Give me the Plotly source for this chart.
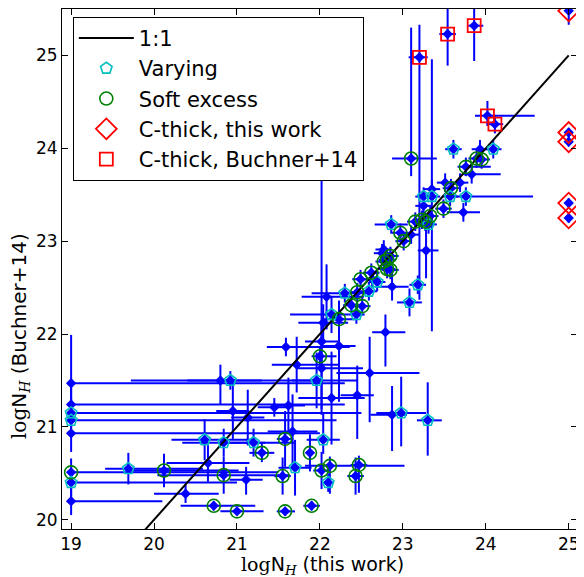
import plotly.graph_objects as go

# logNH (this work), logNH (Buchner+14), errors (minus/plus), flag
x_this = [19.0, 19.0, 19.0, 19.0, 19.0, 19.0, 19.0, 19.0,
          19.69, 20.12, 20.38, 20.72, 21.00, 21.58, 20.61, 20.84, 21.20, 21.30, 20.84, 21.11,
          20.65, 20.80, 20.92, 20.95, 21.13, 21.58, 21.55, 21.59, 21.45, 21.62, 21.70, 21.72,
          21.96, 22.02, 22.14, 22.45, 22.04, 21.88, 22.02, 22.12, 22.43, 22.47, 22.10, 21.90,
          21.67, 22.00, 22.23, 22.02, 22.60, 22.79, 22.87, 22.98, 23.30, 23.08, 22.23, 22.14,
          22.38, 22.51, 22.44, 22.08, 22.04, 22.30, 22.45, 22.59, 22.49, 22.62, 22.63, 22.69,
          22.81, 22.81, 22.75, 22.87, 23.18, 22.77, 22.85, 22.85, 22.77, 23.28, 22.97, 23.01,
          22.86, 23.15, 23.23, 23.27, 23.33, 23.31, 23.49, 23.73, 23.25, 23.35, 23.57, 23.76,
          23.58, 23.51, 23.69, 23.76, 23.10, 23.20, 23.54, 23.86, 24.02, 24.11, 23.61, 24.09,
          23.89, 23.95, 23.93, 23.83, 23.35, 23.25, 23.10,
          25.0, 25.0, 25.0, 25.0, 25.0]
y_b14 = [21.47, 21.24, 21.15, 21.07, 20.93, 20.51, 20.40, 20.20,
         20.55, 20.53, 20.28, 20.15, 20.09, 20.09, 20.86, 20.83, 20.83, 20.72, 20.48, 20.43,
         20.61, 21.50, 21.50, 21.17, 21.10, 20.87, 20.47, 21.86, 21.21, 21.23, 20.56, 21.67,
         21.50, 21.63, 21.31, 21.34, 20.86, 20.72, 20.53, 20.58, 20.47, 20.59, 20.40, 20.15,
         20.95, 21.76, 21.87, 21.92, 21.58, 22.02, 21.13, 21.15, 21.07, 22.34, 22.16, 22.21,
         22.31, 22.30, 22.21, 22.40, 22.12, 22.44, 22.45, 22.46, 22.59, 22.66, 22.59, 22.56,
         22.80, 22.70, 22.87, 22.51, 22.53, 22.78, 22.69, 22.84, 22.91, 22.90, 23.09, 23.00,
         23.18, 23.21, 23.23, 23.21, 23.27, 23.18, 23.35, 23.31, 23.48, 23.48, 23.48, 23.48,
         23.57, 23.63, 23.63, 23.80, 23.89, 24.98, 25.23, 25.32, 24.35, 24.26, 23.99, 23.99,
         23.89, 23.88, 23.99, 23.72, 23.56, 23.38, 23.07,
         25.48, 24.17, 24.07, 23.41, 23.25]
x_err_minus = [0, 0, 0, 0, 0, 0, 0, 0,
               0.28, 0.40, 0.38, 0.40, 0.20, 0.10, 0.40, 0.50, 0.30, 0.15, 0.80, 0.20,
               0.50, 0.40, 1.20, 0.20, 0.20, 0.10, 0.10, 0.23, 0.20, 0.20, 0.20, 0.30,
               0.30, 0.30, 0.40, 0.20, 0.20, 0.05, 0.10, 0.30, 0.10, 0.10, 0.05, 0.10,
               0.30, 0.10, 0.20, 0.20, 0.40, 0.16, 0.26, 0.30, 0.13, 0.15, 0.20, 0.50,
               0.10, 0.10, 0.10, 0.30, 0.30, 0.40, 0.10, 0.10, 0.10, 0.10, 0.10, 0.10,
               0.10, 0.10, 0.10, 0.20, 0.10, 0.10, 0.10, 0.10, 0.10, 0.10, 0.10, 0.10,
               0.20, 0.10, 0.10, 0.10, 0.10, 0.10, 0.10, 0.20, 0.10, 0.10, 0.10, 0.20,
               0.10, 0.10, 0.10, 0.10, 0.23, 0.13, 0.10, 0.07, 0.15, 0.10, 0.10, 0.10,
               0.10, 0.10, 0.10, 0.10, 0.10, 0.10, 0.10,
               0, 0, 0, 0, 0]
x_err_plus = [3.30, 3.30, 3.50, 3.20, 3.00, 2.50, 2.00, 1.10,
              0.90, 0.90, 0.40, 0.50, 0.32, 0.12, 0.60, 0.50, 0.50, 0.15, 0.80, 0.20,
              0.50, 0.50, 1.00, 0.20, 0.20, 0.10, 0.10, 0.77, 0.20, 0.20, 0.20, 0.50,
              0.50, 0.50, 0.40, 0.20, 0.20, 0.05, 0.10, 0.90, 0.10, 0.10, 0.05, 0.10,
              0.30, 0.20, 0.20, 0.20, 0.60, 0.24, 0.18, 0.30, 0.17, 0.15, 0.20, 0.20,
              0.10, 0.10, 0.10, 0.45, 0.30, 0.30, 0.10, 0.10, 0.10, 0.10, 0.10, 0.10,
              0.10, 0.10, 0.10, 0.20, 0.10, 0.10, 0.10, 0.10, 0.10, 0.15, 0.10, 0.10,
              0.20, 0.10, 0.10, 0.10, 0.10, 0.10, 0.10, 0.20, 0.10, 0.10, 0.10, 0.81,
              0.10, 0.10, 0.10, 0.30, 0.31, 0.10, 0.10, 0.11, 0.57, 0.10, 0.10, 0.10,
              0.10, 0.10, 0.10, 0.35, 0.10, 0.10, 0.10,
              0, 0, 0, 0, 0]
y_err_minus = [0.30, 0.20, 0.15, 0.15, 0.20, 0.15, 0.15, 0.15,
               0.17, 0.18, 0.10, 0.05, 0.03, 0.05, 0.22, 0.15, 0.15, 0.10, 0.20, 0.16,
               0.20, 0.26, 0.10, 0.30, 0.30, 0.30, 0.20, 0.10, 0.10, 0.30, 0.30, 0.30,
               0.30, 0.50, 0.50, 0.47, 0.15, 0.20, 0.20, 0.30, 0.20, 0.30, 0.10, 0.05,
               0.40, 0.10, 0.60, 0.73, 0.53, 0.37, 0.39, 0.36, 0.38, 0.15, 0.20, 0.20,
               0.10, 0.10, 0.10, 0.35, 0.20, 0.10, 0.10, 0.10, 0.10, 0.10, 0.10, 0.10,
               0.10, 0.10, 0.10, 0.15, 0.10, 0.10, 0.10, 0.10, 0.10, 0.30, 0.10, 0.10,
               0.10, 0.10, 0.10, 0.10, 0.10, 0.10, 0.10, 0.10, 0.10, 1.45, 0.10, 0.10,
               0.10, 0.10, 0.10, 0.10, 0.19, 2.61, 0.34, 0.38, 0.11, 0.10, 0.10, 0.10,
               0.10, 0.10, 0.10, 0.10, 0.10, 0.10, 0.10,
               0.15, 0.05, 0.05, 0.05, 0.05]
y_err_plus = [0.52, 0.20, 0.15, 0.15, 0.20, 0.15, 0.15, 0.15,
              0.17, 0.18, 0.10, 0.05, 0.03, 0.05, 0.22, 0.15, 0.15, 0.10, 0.20, 0.14,
              0.20, 0.17, 0.10, 0.30, 0.30, 0.30, 0.20, 0.10, 0.10, 0.30, 0.30, 0.30,
              0.30, 0.50, 0.50, 0.32, 0.30, 0.20, 0.20, 0.10, 0.20, 0.10, 0.10, 0.05,
              0.40, 0.10, 0.20, 1.74, 0.39, 0.19, 0.31, 0.39, 0.41, 0.15, 0.20, 0.20,
              0.10, 0.10, 0.10, 0.35, 0.20, 0.10, 0.10, 0.10, 0.10, 0.10, 0.10, 0.10,
              0.10, 0.10, 0.10, 0.15, 0.10, 0.10, 0.10, 0.10, 0.10, 0.30, 0.10, 0.10,
              0.10, 0.10, 0.10, 0.10, 0.10, 0.10, 0.10, 0.10, 0.10, 1.48, 0.10, 0.10,
              0.10, 0.10, 0.10, 0.10, 1.41, 0.35, 0.30, 0.30, 0.16, 0.10, 0.10, 0.10,
              0.10, 0.10, 0.10, 0.10, 0.10, 0.10, 0.10,
              0.10, 0.05, 0.05, 0.05, 0.05]
flag = ["", "", "V", "V", "", "S", "V", "",
        "V", "S", "", "S", "S", "S", "V", "V", "V", "S", "S", "",
        "", "", "V", "", "", "S", "S", "", "", "", "V", "",
        "V", "", "", "", "V", "S", "S", "S", "S", "S", "V", "S",
        "", "S", "", "", "", "", "", "V", "V", "V", "S", "V",
        "S", "S", "V", "", "", "V", "S", "V", "S", "S", "", "V",
        "S", "S", "", "", "V", "S", "S", "S", "", "", "S", "S",
        "V", "S", "S", "S", "S", "V", "S", "", "V", "V", "V", "V",
        "S", "", "", "S", "S", "B", "B", "B", "B", "B", "V", "V",
        "S", "S", "", "", "", "", "",
        "T", "T", "T", "T", "T"]

one_to_one = [19.0, 25.0]

x_tick_vals = [19, 20, 21, 22, 23, 24, 25]
y_tick_vals = [20, 21, 22, 23, 24, 25]

def pick(f):
    xs = [x for x, g in zip(x_this, flag) if g == f]
    ys = [y for y, g in zip(y_b14, flag) if g == f]
    return xs, ys

fig = go.Figure()
fig.add_trace(go.Scatter(
    x=x_this, y=y_b14, mode="markers", showlegend=False,
    marker=dict(symbol="diamond", size=8, color="#0000ff"),
    error_x=dict(type="data", symmetric=False, array=x_err_plus, arrayminus=x_err_minus,
                 color="#0000ff", thickness=2, width=0),
    error_y=dict(type="data", symmetric=False, array=y_err_plus, arrayminus=y_err_minus,
                 color="#0000ff", thickness=2, width=0),
))
fig.add_trace(go.Scatter(x=one_to_one, y=one_to_one, mode="lines", name="1:1",
                         line=dict(color="black", width=2), legendgroup="a"))
vx, vy = pick("V")
fig.add_trace(go.Scatter(x=vx, y=vy, mode="markers", name="Varying", legendgroup="b",
                         marker=dict(symbol="pentagon-open", size=12, color="#00bfbf",
                                     line=dict(width=1.6, color="#00bfbf"))))
sx, sy = pick("S")
fig.add_trace(go.Scatter(x=sx, y=sy, mode="markers", name="Soft excess", legendgroup="c",
                         marker=dict(symbol="circle-open", size=13, color="#008000",
                                     line=dict(width=1.6, color="#008000"))))
tx, ty = pick("T")
fig.add_trace(go.Scatter(x=tx, y=ty, mode="markers", name="C-thick, this work", legendgroup="d",
                         marker=dict(symbol="diamond-open", size=16, color="red",
                                     line=dict(width=1.8, color="red"))))
bx, by = pick("B")
fig.add_trace(go.Scatter(x=bx, y=by, mode="markers", name="C-thick, Buchner+14", legendgroup="e",
                         marker=dict(symbol="square-open", size=13, color="red",
                                     line=dict(width=1.8, color="red"))))

axis_common = dict(showline=True, linecolor="black", linewidth=1, mirror="ticks",
                   ticks="inside", ticklen=6, tickwidth=1, tickcolor="black",
                   showgrid=False, zeroline=False, automargin=False,
                   tickfont=dict(family="DejaVu Sans", size=17, color="black"))
fig.update_layout(
    width=576, height=569,
    margin=dict(l=54, r=7, t=1, b=48),
    plot_bgcolor="white", paper_bgcolor="white",
    xaxis=dict(range=[18.89, 25.1], tickvals=x_tick_vals, **axis_common),
    yaxis=dict(range=[19.9, 25.5], tickvals=y_tick_vals, **axis_common),
    legend=dict(x=0.021, y=0.985, xanchor="left", yanchor="top",
                bgcolor="white", bordercolor="black", borderwidth=1,
                font=dict(family="DejaVu Sans", size=21, color="black"),
                tracegroupgap=0, itemwidth=55),
    annotations=[
        dict(text="<span style='font-family:DejaVu Serif'>log</span>N<sub><span style='font-family:DejaVu Serif;font-style:italic'>H</span></sub> (this work)",
             xref="paper", yref="paper", x=0.505, y=-0.071, xanchor="center", yanchor="middle",
             showarrow=False, font=dict(family="DejaVu Sans", size=19, color="black")),
        dict(text="<span style='font-family:DejaVu Serif'>log</span>N<sub><span style='font-family:DejaVu Serif;font-style:italic'>H</span></sub> (Buchner+14)",
             xref="paper", yref="paper", x=-0.0816, y=0.371, xanchor="center", yanchor="middle",
             textangle=-90, showarrow=False, font=dict(family="DejaVu Sans", size=20, color="black")),
    ],
)
fig.write_html("out.html")
